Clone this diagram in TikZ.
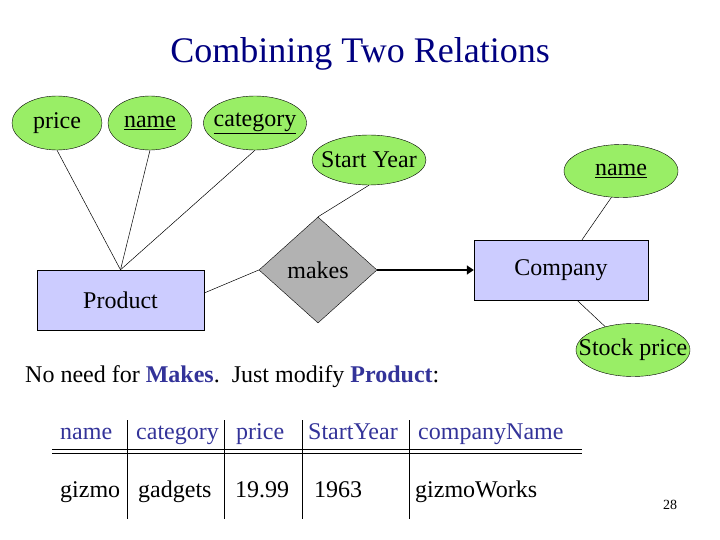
\documentclass[tikz,border=0pt]{standalone}
\usepackage{fontspec}
\setmainfont{Liberation Serif}
\usetikzlibrary{shapes.geometric,arrows.meta}
\definecolor{attrgreen}{HTML}{99EE66}
\definecolor{entblue}{HTML}{CCCCFF}
\definecolor{relgray}{HTML}{B2B2B2}
\definecolor{titleblue}{HTML}{000080}
\definecolor{headblue}{HTML}{333399}
\newcommand{\nowidth}[1]{\makebox[0pt]{#1}}
\begin{document}
\begin{tikzpicture}[x=1pt,y=-1pt,
  txt/.style={font=\fontsize{24}{28}\selectfont},
  attr/.style={ellipse,draw,fill=attrgreen,inner sep=0pt,txt},
  ent/.style={rectangle,draw,fill=entblue,inner sep=0pt,txt},
  rel/.style={diamond,draw,fill=relgray,inner sep=0pt,txt},
  link/.style={draw,line width=0.5pt},
  hdr/.style={txt,text=headblue,anchor=base west,inner sep=0pt},
  cell/.style={txt,anchor=base west,inner sep=0pt},
  rule/.style={line width=0.8pt}]
\useasboundingbox (0,0) rectangle (720,540);
\node[font=\fontsize{36}{42}\selectfont,text=titleblue,anchor=base,inner sep=0pt] (title) at (360,63) {Combining Two Relations};
% attributes
\node[attr,minimum width=90,minimum height=54] (price) at (57,123) {\nowidth{price}};
\node[attr,minimum width=84,minimum height=54] (pname) at (150,123) {\nowidth{\underline{name}}};
\node[attr,minimum width=103,minimum height=54] (category) at (255,123) {\nowidth{\underline{category}}};
\node[attr,minimum width=114,minimum height=50] (startyear) at (369,160) {\nowidth{Start Year}};
\node[attr,minimum width=114,minimum height=53] (cname) at (621,171) {\nowidth{\underline{name}}};
\node[attr,minimum width=114,minimum height=53] (stock) at (633,350) {\nowidth{Stock price}};
% entities
\node[ent,minimum width=167,minimum height=60] (product) at (120.5,300) {Product};
\node[ent,minimum width=174,minimum height=60] (company) at (561,270) {Company};
% relationship
\node[rel,minimum width=118,minimum height=106] (makes) at (318,270) {\nowidth{makes}};
% links
\draw[link] (price.south) -- (product.north);
\draw[link] (pname.south) -- (product.north);
\draw[link] (category.south) -- (product.north);
\draw[link] ([yshift=7pt]product.east) -- (makes.west);
\draw[link] (startyear.south) -- (makes.north);
\draw[link] (cname.250) -- ([xshift=21pt]company.north);
\draw[link] ([xshift=16pt]company.south) -- (stock.140);
\draw[line width=1.6pt,-{Triangle[length=7pt,width=9pt]}] (makes.east) -- (company.west);
% text
\node[txt,anchor=base west,inner sep=0pt] (note) at (25,382) {No need for \textbf{\textcolor{headblue}{Makes}}.\ \ Just modify \textbf{\textcolor{headblue}{Product}}:};
% table
\node[hdr] (h1) at (60,439) {name};
\node[hdr] (h2) at (136,439) {category};
\node[hdr] (h3) at (236,439) {price};
\node[hdr] (h4) at (308,439) {StartYear};
\node[hdr] (h5) at (418,439) {companyName};
\node[cell] (d1) at (60,497) {gizmo};
\node[cell] (d2) at (138,497) {gadgets};
\node[cell] (d3) at (235,497) {19.99};
\node[cell] (d4) at (314,497) {1963};
\node[cell] (d5) at (415,497) {gizmoWorks};
\coordinate (l1a) at (52,449); \coordinate (l1b) at (582,449);
\coordinate (l2a) at (52,453.5); \coordinate (l2b) at (582,453.5);
\draw[rule] (l1a) -- (l1b);
\draw[rule] (l2a) -- (l2b);
\foreach \x [count=\i] in {127,224,302,409}{
  \coordinate (v\i a) at (\x,420);
  \coordinate (v\i b) at (\x,519);
  \draw[rule] (v\i a) -- (v\i b);
}
\node[font=\fontsize{14}{16}\selectfont] (pagenum) at (670,505) {28};
\end{tikzpicture}
\end{document}
